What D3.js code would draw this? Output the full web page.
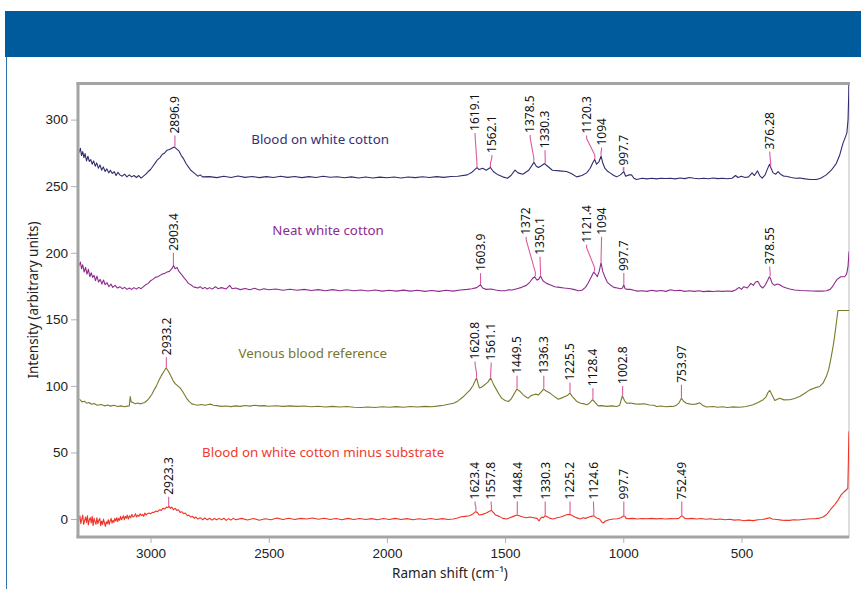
<!DOCTYPE html>
<html>
<head>
<meta charset="utf-8">
<script src="https://cdn.jsdelivr.net/npm/d3@7"></script>
<style>
  html, body { margin: 0; padding: 0; background: #fff; }
  svg { display: block; font-family: "Noto Sans", "Open Sans", sans-serif; }
</style>
</head>
<body>
<div id="chart"></div>
<script>
// Raman spectra, [shift (cm-1), intensity]
const bloodOnCotton = [
  [3307, 280], [3302, 275.5], [3297, 278.5], [3292, 273], [3287, 276], [3282, 271.5], [3277, 274.5], [3271, 269],
  [3265, 272.5], [3259, 268.5], [3253, 270], [3247, 266.5], [3241, 269], [3234, 265], [3228, 267.5], [3221, 263.5],
  [3214, 266], [3207, 262], [3200, 264.5], [3192, 261], [3185, 263], [3177, 260], [3170, 262], [3162, 259.5],
  [3154, 261], [3146, 258], [3138, 260.5], [3130, 258.5], [3120, 257.5], [3110, 259], [3100, 257], [3090, 258.5],
  [3080, 257], [3070, 258], [3060, 256.5], [3050, 258], [3040, 256], [3030, 257.5], [3020, 259], [3010, 261],
  [3000, 262.5], [2990, 265], [2980, 267.5], [2970, 270], [2960, 271.5], [2950, 274], [2940, 275], [2930, 277],
  [2920, 277.5], [2910, 278.5], [2900, 279.5], [2890, 278], [2880, 276.5], [2870, 273], [2860, 270.5], [2850, 267],
  [2840, 264.5], [2830, 262], [2820, 260.5], [2810, 259], [2800, 257.5], [2790, 258.5], [2780, 257],
  [2750, 257.2], [2720, 256.4], [2690, 257.4], [2660, 256.5], [2630, 257.6], [2600, 256.6], [2570, 257.3],
  [2540, 256.4], [2510, 257.2], [2480, 256.5], [2450, 257.4], [2420, 256.6], [2390, 257.3], [2360, 256.4],
  [2330, 257.2], [2300, 256.5], [2270, 257.5], [2240, 256.7], [2210, 257.1], [2180, 256.3], [2150, 257],
  [2120, 256.2], [2090, 256.9], [2060, 256.2], [2030, 256.8], [2000, 256.3], [1970, 256.9], [1940, 256.2],
  [1910, 256.9], [1880, 256.4], [1850, 257.1], [1820, 256.5], [1790, 257.2], [1760, 256.6], [1730, 257.3],
  [1700, 257.5], [1660, 258.5], [1640, 260.5], [1625, 263], [1619, 264], [1610, 262.5], [1595, 263.5],
  [1580, 262], [1562, 264], [1550, 261], [1530, 258.5], [1510, 257], [1490, 256], [1475, 258], [1458, 262],
  [1445, 260], [1425, 259], [1400, 262], [1385, 266], [1378, 268], [1368, 265], [1359, 264], [1345, 265.5],
  [1333, 267], [1320, 265], [1300, 262], [1270, 261.5], [1240, 261], [1220, 259.5], [1197, 257], [1175, 258],
  [1155, 260], [1140, 263.5], [1128, 268], [1121, 270], [1113, 266.5], [1104, 268], [1094, 272.5], [1086, 267],
  [1078, 263.5], [1065, 261], [1056, 260], [1040, 258], [1028, 257], [1012, 258.5], [998, 261], [990, 257.5],
  [975, 258.5], [965, 258.5], [955, 256], [944, 255], [920, 256], [900, 255.5], [880, 256], [860, 255.5],
  [840, 256], [820, 255.8], [800, 256], [780, 255.5], [760, 256.2], [740, 255.7], [720, 256.5], [700, 256],
  [680, 255.6], [660, 256], [640, 255.6], [620, 256.1], [600, 255.7], [580, 256], [560, 255.6], [540, 256],
  [525, 258], [515, 256.5], [500, 257.5], [485, 256.5], [470, 257], [455, 260], [445, 258], [432, 261.5],
  [423, 258], [412, 256], [400, 258.5], [390, 263], [381, 266.5], [376, 264], [366, 260], [355, 259],
  [345, 261], [335, 259], [320, 257.5], [310, 257.5], [290, 256.5], [270, 256], [254, 256.2], [230, 255.5],
  [210, 255], [183, 255], [165, 256], [141, 258.5], [120, 262], [99, 267], [85, 273], [71, 282], [60, 287],
  [54, 290], [49, 300], [46, 320], [45, 335]
];

const neatCotton = [
  [3307, 194], [3302, 190.5], [3297, 193], [3292, 188], [3287, 191], [3281, 185.5], [3275, 189], [3269, 184],
  [3263, 187.5], [3257, 182], [3251, 185], [3245, 181.5], [3239, 183], [3233, 179], [3227, 182.5], [3220, 178],
  [3213, 180], [3206, 176.5], [3199, 179.5], [3192, 176], [3184, 177.5], [3176, 174.5], [3168, 176.5], [3160, 174],
  [3150, 175.5], [3140, 173.5], [3130, 174.5], [3120, 173], [3110, 174], [3100, 172.5], [3090, 173.5], [3080, 172.5],
  [3070, 173.8], [3060, 172.7], [3050, 174], [3040, 173], [3030, 174.5], [3020, 176], [3010, 177], [3000, 179],
  [2990, 180], [2980, 181.5], [2970, 182], [2960, 183], [2950, 184], [2940, 184.5], [2930, 185.5], [2920, 186],
  [2910, 188], [2903, 190.5], [2896, 188], [2888, 189], [2880, 186], [2870, 184], [2860, 181.5], [2850, 179.5],
  [2840, 177], [2830, 176], [2820, 174.5], [2810, 174], [2800, 173.5], [2790, 174.5], [2780, 173], [2770, 174],
  [2760, 172.8], [2750, 173.8], [2740, 172.7], [2725, 174.5], [2715, 173], [2700, 173.8], [2680, 172.8], [2665, 175.5],
  [2655, 173], [2640, 173.5], [2620, 172.3], [2600, 173.2], [2580, 172.2], [2560, 173.3], [2540, 172], [2520, 173],
  [2500, 172.2], [2470, 172.8], [2440, 171.8], [2410, 172.6], [2380, 171.8], [2350, 172.5], [2320, 171.6], [2290, 172.3],
  [2260, 171.5], [2230, 172.3], [2200, 171.5], [2170, 172.2], [2140, 171.4], [2110, 172], [2080, 171.3], [2050, 172],
  [2020, 171.2], [1990, 171.8], [1960, 171.2], [1930, 171.9], [1900, 171.2], [1870, 171.8], [1840, 171], [1810, 171.7],
  [1780, 171], [1750, 171.8], [1720, 171.2], [1690, 172], [1660, 172.5], [1640, 173], [1620, 173.8], [1604, 176],
  [1595, 173.5], [1580, 172.5], [1560, 172.8], [1540, 172], [1520, 171.5], [1500, 171.5], [1485, 172.2], [1470, 172],
  [1450, 173], [1430, 174], [1410, 175.5], [1395, 178], [1385, 180.5], [1375, 182], [1366, 179.5], [1358, 180],
  [1350, 182.5], [1340, 179], [1325, 177], [1310, 176], [1290, 174.5], [1270, 174], [1250, 173.5], [1230, 173.2],
  [1210, 172.5], [1190, 171.5], [1175, 171.8], [1160, 174], [1148, 177.5], [1135, 182], [1125, 185.5], [1118, 184],
  [1110, 182], [1102, 186], [1094, 192.5], [1087, 186], [1078, 182], [1068, 178], [1056, 176], [1040, 174],
  [1025, 173.5], [1012, 173], [1003, 173.5], [998, 176], [992, 173], [985, 172.5], [970, 172.5], [955, 171.8],
  [940, 171.2], [920, 171.5], [900, 171], [880, 171.8], [860, 171.2], [840, 171.6], [820, 171], [800, 172.2],
  [780, 171.5], [760, 171.8], [740, 171], [720, 171.5], [700, 171], [680, 171.5], [660, 170.8], [640, 171.2],
  [620, 170.9], [600, 171.3], [580, 171], [560, 171.3], [540, 171], [525, 172], [510, 174], [500, 172.5],
  [490, 174.5], [475, 173.5], [460, 177], [450, 175.5], [440, 178], [430, 178.5], [420, 175], [410, 173.5],
  [400, 175.5], [390, 179], [382, 182], [378, 181], [370, 177], [360, 175.5], [348, 176.5], [338, 176],
  [325, 174.5], [310, 173.5], [296, 172.8], [275, 172], [250, 171.6], [225, 171.5], [200, 171.3], [180, 171.2],
  [160, 171.2], [140, 171.5], [125, 172.5], [115, 174.5], [105, 177.5], [95, 180], [80, 182], [63, 182],
  [55, 184], [49, 190], [46, 198], [45, 201]
];

const venousBlood = [
  [3307, 90], [3298, 89.5], [3290, 88], [3280, 88.5], [3270, 87], [3260, 87.5], [3250, 86.2], [3240, 86.8],
  [3225, 85.5], [3210, 86], [3195, 85], [3180, 85.6], [3169, 84.8], [3155, 85.4], [3140, 84.5], [3125, 85],
  [3110, 84.3], [3099, 84.8], [3090, 85], [3086, 92], [3082, 88], [3075, 87.5], [3065, 86.5], [3055, 87.2],
  [3045, 86.5], [3035, 87], [3025, 87.5], [3015, 89], [3005, 91], [2995, 93.5], [2985, 97], [2975, 100],
  [2965, 104], [2955, 107.5], [2945, 110.5], [2935, 113.5], [2928, 112], [2920, 109.5], [2913, 107], [2905, 104],
  [2895, 101.5], [2885, 100], [2875, 98.5], [2865, 96], [2855, 93], [2845, 90], [2835, 88], [2825, 86.5],
  [2815, 86], [2800, 85.5], [2785, 86], [2770, 85.4], [2755, 86], [2745, 86.3], [2735, 85.5], [2720, 85.2],
  [2700, 84.6], [2680, 84.9], [2660, 84.4], [2640, 85], [2620, 84.6], [2600, 85.3], [2580, 84.8], [2560, 85.4],
  [2540, 85], [2520, 85.2], [2500, 84.7], [2470, 85.1], [2440, 84.6], [2410, 85], [2380, 84.6], [2350, 84.9],
  [2320, 84.3], [2290, 84.7], [2260, 84.2], [2230, 84.6], [2200, 84.1], [2170, 84.5], [2140, 84], [2110, 83.8],
  [2080, 84.2], [2050, 83.8], [2020, 84.3], [1990, 84], [1960, 84.4], [1930, 84], [1900, 84.5], [1870, 84.1],
  [1840, 84.6], [1810, 84.3], [1780, 85], [1760, 85.5], [1740, 86.2], [1718, 87], [1700, 88.5], [1690, 90],
  [1676, 92], [1662, 94.5], [1648, 97], [1635, 100.5], [1626, 104], [1621, 106], [1615, 102], [1609, 98.5],
  [1600, 99], [1585, 101], [1572, 103], [1561, 106], [1550, 101.5], [1536, 97], [1525, 93.5], [1515, 90.8],
  [1500, 89], [1486, 88.3], [1475, 90], [1462, 94], [1450, 97.6], [1438, 96], [1423, 93.3], [1410, 91.5],
  [1402, 90.8], [1392, 92.5], [1380, 93.3], [1368, 93.8], [1360, 93], [1350, 95], [1337, 97.6], [1325, 96],
  [1310, 94.6], [1295, 92.5], [1275, 90], [1260, 91], [1247, 92], [1235, 93], [1226, 94.5], [1215, 92],
  [1197, 88.3], [1180, 87], [1165, 86.5], [1155, 85.8], [1143, 87], [1130, 89.6], [1118, 87.5], [1106, 85],
  [1090, 85.2], [1070, 84.6], [1050, 85], [1028, 84.5], [1015, 85.5], [1004, 92.6], [995, 89], [986, 87],
  [970, 87.2], [950, 86.5], [930, 86.3], [910, 86.6], [890, 85.7], [870, 85.5], [859, 84.5], [840, 84.9],
  [820, 84.3], [800, 84.6], [789, 84.5], [775, 85.5], [765, 87], [754, 90.8], [745, 88.5], [733, 87],
  [720, 86.5], [705, 86], [690, 86.5], [676, 87.3], [665, 85.5], [648, 84.2], [620, 84.5], [600, 84],
  [580, 84.3], [560, 83.8], [540, 84.2], [507, 84], [480, 84.5], [451, 85.8], [430, 87.5], [408, 89.6],
  [395, 92], [388, 95], [380, 96.6], [370, 93], [359, 89], [348, 90], [338, 90.8], [320, 89.5],
  [296, 89.6], [275, 90.5], [254, 92], [232, 94.5], [211, 97], [190, 98.5], [169, 99.6], [155, 102],
  [141, 107], [130, 113], [120, 122], [112, 130], [106, 137], [98, 148], [92, 156.6], [45, 156.6]
];

const bloodMinusSubstrate = [
  [3307, 4], [3303, -1], [3299, 2.5], [3295, -3.5], [3291, 0], [3287, 3], [3283, -4], [3279, -1], [3275, 1.5],
  [3271, -2.5], [3267, 2.5], [3263, -4.5], [3259, -0.5], [3255, 1], [3251, -3], [3247, 2], [3243, -5], [3239, 0.5],
  [3235, -2], [3231, -4], [3227, 1], [3223, -3.5], [3219, -1], [3215, 0.5], [3211, -5], [3207, -1.5], [3203, -4],
  [3199, 0], [3195, -3], [3191, -5.5], [3187, -2], [3183, -3.5], [3179, -0.5], [3175, -4], [3171, -1.5], [3167, 0.5],
  [3163, -3], [3159, -1], [3155, -2.5], [3151, 0.5], [3147, -1.5], [3143, 1], [3139, -2], [3135, 0.5], [3131, -1],
  [3127, 2], [3123, -0.5], [3119, 1], [3115, 2.5], [3111, -0.5], [3107, 2], [3103, 0.5], [3099, 3], [3094, 0],
  [3089, 2.5], [3084, 1], [3079, 3.5], [3074, 1.5], [3069, 2], [3064, 4], [3059, 1.5], [3054, 3], [3049, 2],
  [3044, 4], [3039, 2.5], [3034, 3.5], [3029, 2], [3024, 4.5], [3019, 3], [3014, 4], [3007, 4.5], [3000, 4],
  [2992, 5], [2985, 5], [2978, 6], [2970, 5.5], [2962, 7], [2955, 6.5], [2948, 8], [2940, 7.5], [2933, 9],
  [2927, 8.5], [2922, 9.5], [2916, 8], [2910, 9], [2903, 7], [2896, 8], [2889, 6.5], [2882, 7], [2875, 5],
  [2868, 5.5], [2860, 4], [2853, 4.5], [2845, 2.5], [2838, 3], [2830, 1.5], [2822, 2], [2815, 0.5],
  [2808, 1.5], [2800, 0], [2790, 1], [2780, -0.5], [2770, 0.8], [2760, -0.6], [2750, 0.6], [2740, -0.8],
  [2730, 0.4], [2720, -0.6], [2710, 0.5], [2700, -0.5], [2690, 0.6], [2680, -1], [2670, 0.3], [2660, -0.8],
  [2650, 0.5], [2640, -0.6], [2615, 0.5], [2590, -0.7], [2565, 0.4], [2540, -0.9], [2515, 0.2], [2490, -0.5],
  [2465, 0.7], [2440, -0.3], [2415, 0.6], [2390, -0.4], [2365, 0.5], [2340, 0], [2315, 0.8], [2290, -0.2],
  [2265, 0.6], [2240, -0.3], [2215, 0.4], [2190, -0.5], [2165, 0.5], [2140, -0.3], [2115, 0.4], [2090, -0.4],
  [2065, 0.3], [2040, -0.5], [2015, 0.4], [1990, -0.3], [1965, 0.5], [1940, -0.4], [1915, 0.3], [1890, -0.5],
  [1865, 0.2], [1840, -0.4], [1815, 0.4], [1790, -0.3], [1765, 0.3], [1740, -0.4], [1720, 0], [1700, 0.8],
  [1690, 1.5], [1670, 2], [1650, 2.5], [1635, 4], [1625, 5.5], [1618, 5], [1610, 3], [1595, 3.5],
  [1580, 4.5], [1570, 5.5], [1558, 6.5], [1550, 5], [1540, 3], [1525, 2], [1510, 0.5], [1493, 0],
  [1480, 1], [1465, 2], [1450, 3], [1440, 2.5], [1425, 1.5], [1409, 1], [1395, 1.5], [1380, 1],
  [1365, 0.5], [1356, -1.5], [1350, 0.5], [1345, 1.5], [1338, 1], [1331, 2.5], [1320, 1.5], [1310, 0.5],
  [1296, 0], [1280, 1], [1265, 1.5], [1250, 2.5], [1240, 3.2], [1228, 3.5], [1220, 3], [1205, 1.5],
  [1190, 0.5], [1183, 0], [1170, 1], [1160, 0.5], [1145, 1.5], [1135, 2], [1125, 2.5], [1115, 1],
  [1100, 0], [1090, -2.5], [1085, -3], [1075, -1.5], [1060, -0.5], [1042, 0], [1025, 0.2], [1010, 1],
  [998, 2.5], [993, 2], [988, 0.5], [980, 0.3], [960, 0.5], [940, 0], [920, 0.4], [900, 0.2],
  [880, 0.5], [860, 0.1], [840, 0.4], [820, 0], [800, 0.3], [780, 0.2], [765, 0.5], [753, 2.5],
  [748, 2], [740, 0.5], [730, 0.2], [710, 0.5], [690, 0], [670, 0.4], [650, -0.2], [630, 0.2],
  [610, -0.4], [590, 0], [570, -0.6], [550, -0.2], [530, -0.8], [510, -0.5], [490, -1.3], [470, -0.8],
  [450, -1.2], [430, -0.5], [410, -0.3], [390, 0.5], [380, 0.9], [370, 0], [350, -0.3], [330, -0.8],
  [310, -1], [296, -1], [280, -0.5], [260, -0.7], [240, -0.3], [220, 0], [200, 0.2], [185, 0.3],
  [169, 0.7], [155, 1.5], [141, 3.2], [128, 6], [115, 9], [106, 10.7], [92, 14], [78, 18.2],
  [65, 20.5], [56, 22], [50, 23], [48, 40], [46, 60], [45, 66]
];

const seriesNames = ["Blood on white cotton", "Neat white cotton", "Venous blood reference", "Blood on white cotton minus substrate"];
const seriesColors = ["#2f2c6e", "#8d2b8f", "#7b7a2c", "#ee3427"];
const titleColors = ["#33307c", "#8d2b8f", "#76772a", "#f03a2e"];

// peak labels per series: [label, label-position shift, label base intensity]
const bloodPeaks = [
  ["2896.9", 2896.9, 288], ["1619.1", 1627, 290], ["1562.1", 1556, 273.5], ["1378.5", 1394, 288.5],
  ["1330.3", 1331, 277], ["1120.3", 1155, 288], ["1094", 1092, 279], ["997.7", 1000, 264], ["376.28", 380, 276]
];
const neatPeaks = [
  ["2903.4", 2903.4, 200], ["1603.9", 1603.9, 184.7], ["1372", 1411, 212], ["1350.1", 1352, 197],
  ["1121.4", 1155, 206], ["1094", 1092, 212], ["997.7", 997.7, 184.7], ["378.55", 380, 189.6]
];
const venousPeaks = [
  ["2933.2", 2933.2, 121.6], ["1620.8", 1627, 118.3], ["1561.1", 1559, 117.6], ["1449.5", 1449.5, 107.6],
  ["1336.3", 1336.3, 107.6], ["1225.5", 1225.5, 102.5], ["1128.4", 1128.4, 98.3], ["1002.8", 1002.8, 100],
  ["753.97", 753.97, 100.8]
];
const minusPeaks = [
  ["2923.3", 2923.3, 16.7], ["1623.4", 1627, 13.2], ["1557.8", 1559, 13.2], ["1448.4", 1448.4, 13.2],
  ["1330.3", 1330.3, 13.2], ["1225.2", 1225.2, 13.2], ["1124.6", 1126, 13.2], ["997.7", 997.7, 13.2],
  ["752.49", 752.49, 13.2]
];

const xTicks = [3000, 2500, 2000, 1500, 1000, 500];
const yTicks = [0, 50, 100, 150, 200, 250, 300];

const series = [bloodOnCotton, neatCotton, venousBlood, bloodMinusSubstrate];
const peaks = [bloodPeaks, neatPeaks, venousPeaks, minusPeaks];
// where each series title sits: [left shift, baseline intensity]
const titleSpots = [[2574, 282], [2485, 213], [2628, 121], [2782, 46.5]];

const W = 861, H = 589;
const plot = { left: 78, right: 849, top: 83, bottom: 537 };

const svg = d3.select('#chart').append('svg').attr('width', W).attr('height', H);

// page header band and left rule
svg.append('rect').attr('x', 5).attr('y', 11).attr('width', W - 5).attr('height', 46).attr('fill', '#005b9c');
svg.append('line').attr('x1', 6.5).attr('x2', 6.5).attr('y1', 57).attr('y2', H)
  .attr('stroke', '#2f73b3').attr('stroke-width', 1);

const x = d3.scaleLinear().domain([3307, 45]).range([plot.left, plot.right]);
const y = d3.scaleLinear().domain([-13.5, 327.5]).range([plot.bottom, plot.top]);

// frame
svg.append('rect')
  .attr('x', plot.left).attr('y', plot.top)
  .attr('width', plot.right - plot.left).attr('height', plot.bottom - plot.top)
  .attr('fill', '#fff').attr('stroke', '#cfd2d6').attr('stroke-width', 1.5);
svg.append('line').attr('x1', plot.left - 1.5).attr('x2', plot.right + 1).attr('y1', plot.top + 0.5).attr('y2', plot.top + 0.5)
  .attr('stroke', '#a4a4a4').attr('stroke-width', 3);

// axes
const xAxis = d3.axisBottom(x).tickValues(xTicks).tickSize(6).tickPadding(5).tickFormat(d3.format('d'));
const yAxis = d3.axisLeft(y).tickValues(yTicks).tickSize(7).tickPadding(3).tickFormat(d3.format('d'));

const gX = svg.append('g').attr('transform', `translate(0, ${plot.bottom})`).call(xAxis);
const gY = svg.append('g').attr('transform', `translate(${plot.left}, 0)`).call(yAxis);
[gX, gY].forEach(g => {
  g.select('.domain').remove();
  g.selectAll('line').attr('stroke', '#aab3c2');
  g.selectAll('text').attr('fill', '#222').style('font-size', '13.5px');
});

svg.append('line').attr('x1', plot.left).attr('x2', plot.left).attr('y1', plot.top - 1).attr('y2', plot.bottom + 1)
  .attr('stroke', '#a4a4a4').attr('stroke-width', 3);
svg.append('line').attr('x1', plot.left - 1.5).attr('x2', plot.right).attr('y1', plot.bottom).attr('y2', plot.bottom)
  .attr('stroke', '#a4a4a4').attr('stroke-width', 3);

svg.append('text')
  .attr('x', 450).attr('y', 578)
  .attr('text-anchor', 'middle').attr('fill', '#222').style('font-size', '13.5px')
  .text('Raman shift (cm⁻¹)');
svg.append('text')
  .attr('transform', `translate(38, 300) rotate(-90)`)
  .attr('text-anchor', 'middle').attr('fill', '#222').style('font-size', '13.5px')
  .text('Intensity (arbitrary units)');

// spectra
svg.append('clipPath').attr('id', 'plot-clip')
  .append('rect').attr('x', plot.left + 1.5).attr('y', plot.top + 2)
  .attr('width', plot.right - plot.left - 1.5).attr('height', plot.bottom - plot.top - 3.5);

const surface = svg.append('g').attr('clip-path', 'url(#plot-clip)');
const line = d3.line().x(d => x(d[0])).y(d => y(d[1]));

series.forEach((data, i) => {
  surface.append('path')
    .datum(data)
    .attr('d', line)
    .attr('fill', 'none')
    .attr('stroke', seriesColors[i])
    .attr('stroke-width', 1.1)
    .attr('stroke-linejoin', 'round');
});

// peak markers
const valueAt = (data, s) => {
  // highest point of the curve within a few wavenumbers of the peak
  const near = data.filter(d => Math.abs(d[0] - s) <= 4);
  const lerp = () => {
    for (let k = 0; k < data.length - 1; k++) {
      const a = data[k], b = data[k + 1];
      if (a[0] >= s && b[0] <= s) return a[1] + (b[1] - a[1]) * (a[0] - s) / (a[0] - b[0]);
    }
    return data[data.length - 1][1];
  };
  return Math.max(lerp(), ...near.map(d => d[1]));
};

const markers = svg.append('g');
peaks.forEach((list, i) => {
  list.forEach(([label, at, base]) => {
    const s = parseFloat(label);
    const tipX = x(s), tipY = y(valueAt(series[i], s)) - 0.5;
    const lx = x(at), ly = y(base);
    const pts = lx === tipX
      ? [[lx, ly], [tipX, tipY]]
      : [[lx, ly], [lx, ly + 3], [tipX, tipY - 4], [tipX, tipY]];
    markers.append('path')
      .attr('d', d3.line()(pts))
      .attr('fill', 'none')
      .attr('stroke', '#dc5aa0')
      .attr('stroke-width', 1.1);
    markers.append('text')
      .attr('transform', `translate(${lx}, ${ly - 2}) rotate(-90)`)
      .attr('dy', '0.36em')
      .attr('fill', '#111')
      .style('font-size', '12px')
      .text(label);
  });
});

// series titles
seriesNames.forEach((name, i) => {
  svg.append('text')
    .attr('x', x(titleSpots[i][0]))
    .attr('y', y(titleSpots[i][1]))
    .attr('fill', titleColors[i])
    .style('font-size', '13.3px')
    .text(name);
});
</script>
</body>
</html>
